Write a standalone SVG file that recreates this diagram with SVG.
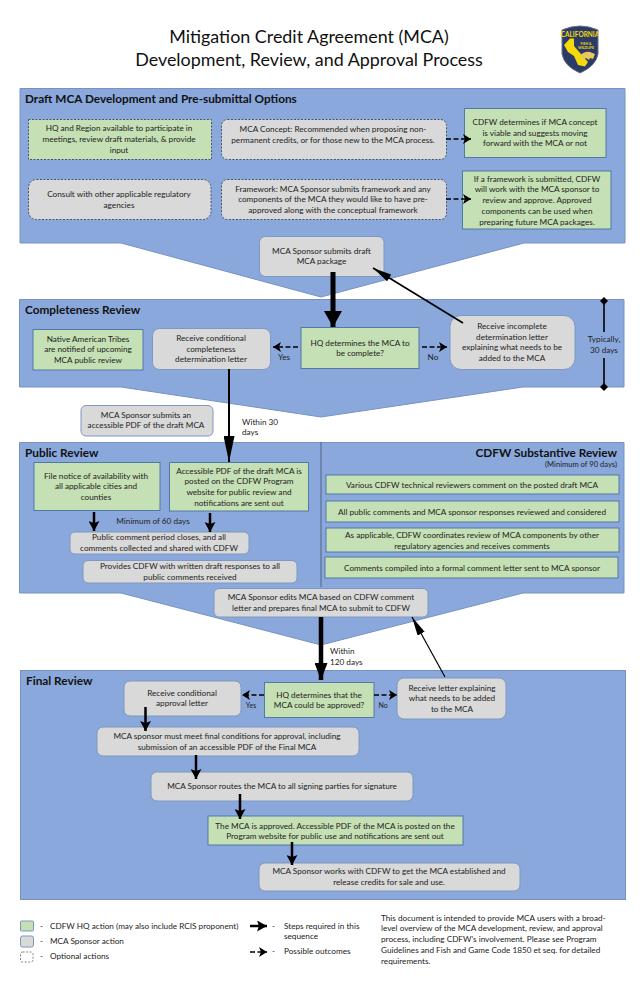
<svg xmlns="http://www.w3.org/2000/svg" width="640" height="990" viewBox="0 0 640 990">
<style>
text{font-family:"Lato","Open Sans","Liberation Sans",sans-serif;fill:#222;font-size:8.2px;text-anchor:middle}
.title{font-size:17.9px;fill:#111}
.head{font-size:11.8px;font-weight:700;text-anchor:start;fill:#111}
.l{text-anchor:start}
.panel{fill:#8aa8dc;stroke:#7792c2;stroke-width:1}
.g{fill:#c5e0b4;stroke:#4f7aa3;stroke-width:1}
.s{fill:#d9d9d9;stroke:#7f98bf;stroke-width:1}
.gd{fill:#c5e0b4;stroke:#44546a;stroke-width:1;stroke-dasharray:2 1.5}
.sd{fill:#d9d9d9;stroke:#44546a;stroke-width:1;stroke-dasharray:2 1.5}
.dash{fill:none;stroke:#000;stroke-width:1.7;stroke-dasharray:5 2.5;marker-end:url(#hd)}
.big{stroke:#000;stroke-width:5;fill:none;marker-end:url(#hb)}
.big2{stroke:#000;stroke-width:4.5;fill:none;marker-end:url(#hc)}
.long{stroke:#000;stroke-width:2;fill:none;marker-end:url(#hl)}
.small{stroke:#000;stroke-width:2.5;fill:none;marker-end:url(#hs)}
.thin{stroke:#000;stroke-width:1.2;fill:none;marker-end:url(#ht)}
.rule{stroke:#000;stroke-width:1.6;fill:none;marker-start:url(#dm);marker-end:url(#dm)}
</style>
<defs>
<marker id="hd" markerUnits="userSpaceOnUse" markerWidth="9" markerHeight="10" refX="8" refY="5" orient="auto"><path d="M0 0L8 5L0 10L2 5Z" fill="#000"/></marker>
<marker id="hb" markerUnits="userSpaceOnUse" markerWidth="18" markerHeight="18" refX="16" refY="9" orient="auto"><path d="M0 0L16 9L0 18Z" fill="#000"/></marker>
<marker id="hc" markerUnits="userSpaceOnUse" markerWidth="18" markerHeight="13" refX="17" refY="6.500" orient="auto"><path d="M0 0L17 6.500L0 13Z" fill="#000"/></marker>
<marker id="hl" markerUnits="userSpaceOnUse" markerWidth="27" markerHeight="11" refX="26" refY="5.5" orient="auto"><path d="M0 0L26 5.5L0 11Z" fill="#000"/></marker>
<marker id="hs" markerUnits="userSpaceOnUse" markerWidth="11" markerHeight="11" refX="10" refY="5.5" orient="auto"><path d="M0 0L10 5.5L0 11L2 5.5Z" fill="#000"/></marker>
<marker id="ht" markerUnits="userSpaceOnUse" markerWidth="20" markerHeight="8" refX="19" refY="4" orient="auto"><path d="M0 0L19 4L0 8Z" fill="#000"/></marker>
<marker id="dm" markerUnits="userSpaceOnUse" markerWidth="8" markerHeight="8" refX="4" refY="4" orient="auto"><path d="M4 0L8 4L4 8L0 4Z" fill="#000"/></marker>
</defs>

<g id="header">
<text class="title" x="309" y="43">Mitigation Credit Agreement (MCA)</text>
<text class="title" x="309" y="66">Development, Review, and Approval Process</text>
</g>
<g id="logo">
<path d="M562 30Q580 22 598 30L598 54Q596 66 580 73Q564 66 562 54Z" fill="#2b3a67" stroke="#6b7280" stroke-width="1"/>
<path d="M564 45L570 38.5L574 38.5L574 46L588 62L585 66.5L578 65L574 56L568 52Z" fill="#f5d90a"/>
<path d="M580 56Q584 51 590 52L595 54L593 59L590 58L589 60L586 58L582 60Z" fill="#e8c95a"/>
<text x="580" y="36.5" style="font-size:6.5px;font-weight:700;fill:#f5d90a">CALIFORNIA</text>
<text x="586" y="45" style="font-size:3.5px;font-weight:700;fill:#f5d90a">FISH &amp;</text>
<text x="586" y="49" style="font-size:3.5px;font-weight:700;fill:#f5d90a">WILDLIFE</text>
</g>

<g id="panels">
<path id="panel-draft" class="panel" d="M20 88.5H625V243H524L321 297L121 243H20Z"/>
<path id="panel-completeness" class="panel" d="M19.500 299.500H624V387H523L321 417L121 387H19.500Z"/>
<path id="panel-public" class="panel" d="M19.500 442.500H624V593H523L321 645L121 593H19.500Z"/>
<line x1="321" y1="442" x2="321" y2="587" stroke="#44546a" stroke-width="0.8"/>
<rect id="panel-final" class="panel" x="20.500" y="670.500" width="605" height="229"/>
<text class="head" x="25" y="103">Draft MCA Development and Pre-submittal Options</text>
<text class="head" x="25" y="314">Completeness Review</text>
<text class="head" x="25" y="457">Public Review</text>
<text class="head" x="617" y="457" style="text-anchor:end">CDFW Substantive Review</text>
<text x="617" y="467" style="text-anchor:end;font-size:7.6px">(Minimum of 90 days)</text>
<text class="head" x="26" y="685">Final Review</text>
</g>

<g id="n-hq-region"><rect class="gd" x="28.500" y="119.500" width="183" height="40"/>
<text x="119" y="131">HQ and Region available to  participate in</text><text x="119" y="142">meetings, review draft materials, &amp; provide</text><text x="119" y="153">input</text></g>
<g id="n-concept"><rect class="sd" x="221.500" y="119.500" width="225" height="40" rx="6"/>
<text x="333" y="132">MCA Concept: Recommended when proposing non-</text><text x="333" y="143">permanent credits, or for those new to the MCA process.</text></g>
<g id="n-viable"><rect class="g" x="464.500" y="108.500" width="141.500" height="49"/>
<text x="535" y="125">CDFW determines if MCA concept</text><text x="535" y="136">is viable and suggests moving</text><text x="535" y="146">forward with the MCA or not</text></g>
<g id="n-consult"><rect class="sd" x="28.500" y="179.500" width="182.500" height="40" rx="8"/>
<text x="119" y="197">Consult with other applicable regulatory</text><text x="119" y="208">agencies</text></g>
<g id="n-framework"><rect class="sd" x="221.500" y="179.500" width="225" height="40" rx="6"/>
<text x="333" y="192">Framework: MCA Sponsor submits framework and any</text><text x="333" y="202">components of the MCA they would like to have pre-</text><text x="333" y="213">approved along with the conceptual framework</text></g>
<g id="n-if-framework"><rect class="g" x="462.500" y="171" width="148.500" height="58"/>
<text x="537" y="182">If a framework is submitted, CDFW</text><text x="537" y="192">will work with the MCA sponsor to</text><text x="537" y="203">review and approve. Approved</text><text x="537" y="214">components can be used when</text><text x="537" y="225">preparing future MCA packages.</text></g>
<g id="n-submit-draft"><rect class="s" x="259.500" y="236.500" width="124.500" height="40" rx="6"/>
<text x="321.500" y="254">MCA Sponsor submits draft</text><text x="321.500" y="264">MCA package</text></g>

<g id="n-tribes"><rect class="g" x="33" y="329.500" width="110" height="40.500"/>
<text x="88" y="342">Native American Tribes</text><text x="88" y="352">are notified of upcoming</text><text x="88" y="363">MCA public review</text></g>
<g id="n-cond-letter"><rect class="s" x="152.500" y="328.500" width="118" height="41" rx="7"/>
<text x="211" y="341">Receive conditional</text><text x="211" y="352">completeness</text><text x="211" y="362">determination letter</text></g>
<g id="n-hq-complete"><rect class="g" x="301" y="327.500" width="118" height="41"/>
<text x="360" y="346">HQ determines the MCA to</text><text x="360" y="356">be complete?</text></g>
<g id="n-incomplete"><rect class="s" x="450" y="315.500" width="125" height="54" rx="11"/>
<text x="512" y="329">Receive incomplete</text><text x="512" y="340">determination letter</text><text x="512" y="350">explaining what needs to be</text><text x="512" y="361">added to the MCA</text></g>
<g id="labels-completeness">
<text x="284" y="360">Yes</text><text x="433" y="360">No</text>
<text x="604" y="342">Typically,</text><text x="604" y="353">30 days</text>
<text class="l" x="242" y="425">Within 30</text><text class="l" x="242" y="435">days</text>
</g>
<g id="n-submit-pdf"><rect class="s" x="81" y="405.500" width="132" height="30.500" rx="5"/>
<text x="146" y="418">MCA Sponsor submits an</text><text x="146" y="428">accessible PDF of the draft MCA</text></g>

<g id="n-file-notice"><rect class="g" x="34" y="462.500" width="126" height="48"/>
<text x="96" y="479">File notice of availability with</text><text x="96" y="489">all applicable cities and</text><text x="96" y="500">counties</text></g>
<g id="n-posted"><rect class="g" x="169.500" y="462.500" width="139" height="48.500"/>
<text x="239" y="474">Accessible PDF of the draft MCA is</text><text x="239" y="484">posted on the CDFW Program</text><text x="239" y="495">website for public review and</text><text x="239" y="506">notifications are sent out</text></g>
<text id="label-60" x="153" y="524">Minimum of 60 days</text>
<g id="n-closes"><rect class="s" x="70" y="532" width="179" height="22" rx="5"/>
<text x="159" y="540">Public comment period closes, and all</text><text x="159" y="551">comments collected and shared with CDFW</text></g>
<g id="n-responses"><rect class="s" x="83" y="560.500" width="214" height="22.500" rx="5"/>
<text x="190" y="569">Provides CDFW with written draft responses to all</text><text x="190" y="580">public comments received</text></g>
<g id="n-technical"><rect class="g" x="326" y="475" width="293" height="19"/>
<text x="472" y="488">Various CDFW technical reviewers comment on the posted draft MCA</text></g>
<g id="n-all-public"><rect class="g" x="326" y="501" width="293" height="21"/>
<text x="472" y="515">All public comments and MCA sponsor responses reviewed and considered</text></g>
<g id="n-coordinates"><rect class="g" x="326" y="528" width="293" height="24"/>
<text x="472" y="538">As applicable, CDFW coordinates review of MCA components by other</text><text x="472" y="549">regulatory agencies and receives comments</text></g>
<g id="n-compiled"><rect class="g" x="325" y="557" width="293" height="21"/>
<text x="472" y="571">Comments compiled into a formal comment letter sent to MCA sponsor</text></g>
<g id="n-edits"><rect class="s" x="214" y="588.500" width="214" height="28.500" rx="5"/>
<text x="321" y="600">MCA Sponsor edits MCA based on CDFW comment</text><text x="321" y="611">letter and prepares final MCA to submit to CDFW</text></g>
<g id="labels-120"><text class="l" x="330" y="654">Within</text><text class="l" x="330" y="665">120 days</text></g>

<g id="n-approval-letter"><rect class="s" x="124" y="681" width="117" height="35" rx="6"/>
<text x="182" y="696">Receive conditional</text><text x="182" y="706">approval letter</text></g>
<g id="n-hq-approved"><rect class="g" x="264.500" y="682.500" width="109.500" height="35"/>
<text x="319" y="698">HQ determines that the</text><text x="319" y="708">MCA could be approved?</text></g>
<g id="n-letter"><rect class="s" x="397" y="678" width="109" height="41" rx="7"/>
<text x="452" y="691">Receive letter explaining</text><text x="452" y="701">what needs to be added</text><text x="452" y="712">to the MCA</text></g>
<g id="labels-final"><text x="251" y="708" style="font-size:7px">Yes</text><text x="383" y="708" style="font-size:7px">No</text></g>
<g id="n-conditions"><rect class="s" x="97" y="727" width="262" height="29" rx="6"/>
<text x="227" y="739">MCA sponsor must meet final conditions for approval, including</text><text x="227" y="750">submission of an accessible PDF of the Final MCA</text></g>
<g id="n-routes"><rect class="s" x="151" y="772" width="262" height="29" rx="6"/>
<text x="282" y="789">MCA Sponsor routes the MCA to all signing parties for signature</text></g>
<g id="n-approved"><rect class="g" x="208" y="816" width="255" height="29"/>
<text x="335" y="829">The MCA  is approved. Accessible PDF of the MCA is posted on the</text><text x="335" y="839">Program website for public use and notifications are sent out</text></g>
<g id="n-establish"><rect class="s" x="259" y="863" width="261" height="28" rx="6"/>
<text x="389" y="874">MCA Sponsor works with CDFW to get the MCA  established and</text><text x="389" y="885">release credits for sale and use.</text></g>

<g id="connectors">
<line class="dash" x1="446" y1="139" x2="471" y2="139"/>
<line class="dash" x1="446" y1="199" x2="471" y2="199"/>
<line class="big" x1="333" y1="272" x2="333" y2="327"/>
<line class="thin" x1="463" y1="323" x2="373" y2="268" style="stroke-width:1.6"/>
<line class="dash" x1="298" y1="347" x2="273" y2="347"/>
<line class="dash" x1="422" y1="347" x2="447" y2="347"/>
<line class="long" x1="229" y1="369" x2="229" y2="462"/>
<line class="small" x1="94" y1="512" x2="94" y2="531"/>
<line class="small" x1="210" y1="513" x2="210" y2="532"/>
<line class="big2" x1="321" y1="617" x2="321" y2="680"/>
<line class="thin" x1="445" y1="677" x2="412" y2="617"/>
<line class="dash" x1="264" y1="695" x2="242" y2="695"/>
<line class="dash" x1="374" y1="695" x2="397" y2="695"/>
<line class="small" x1="145.500" y1="707" x2="145.500" y2="731"/>
<line class="small" x1="196" y1="755" x2="196" y2="779"/>
<line class="small" x1="240" y1="794" x2="240" y2="819"/>
<line class="small" x1="292" y1="842" x2="292" y2="865"/>
<line class="rule" x1="604" y1="301" x2="604" y2="332" style="marker-end:none"/>
<line class="rule" x1="604" y1="358" x2="604" y2="387" style="marker-start:none"/>
</g>

<g id="legend">
<rect class="g" x="20.500" y="921" width="13" height="10" rx="1" style="stroke:#7f98bf"/>
<rect class="s" x="20.500" y="936" width="13" height="11" rx="2"/>
<rect x="20.500" y="952" width="12.500" height="10" rx="2" fill="none" stroke="#555" stroke-width="0.700" stroke-dasharray="2 1.500"/>
<text class="l" x="40" y="929">-</text><text class="l" x="50" y="929">CDFW HQ action (may also include RCIS proponent)</text>
<text class="l" x="40" y="943.500">-</text><text class="l" x="50" y="943.500">MCA Sponsor action</text>
<text class="l" x="40" y="959">-</text><text class="l" x="50" y="959">Optional actions</text>
<line class="small" x1="250" y1="926" x2="267" y2="926"/>
<line class="dash" x1="250" y1="952" x2="267" y2="952"/>
<text class="l" x="272" y="929">-</text><text class="l" x="284" y="929">Steps required in this</text><text class="l" x="284" y="939">sequence</text>
<text class="l" x="272" y="954">-</text><text class="l" x="284" y="954">Possible outcomes</text>
<text class="l" x="381" y="921">This document is intended to provide MCA users with a broad-</text>
<text class="l" x="381" y="931">level overview of the MCA development, review, and approval</text>
<text class="l" x="381" y="942">process, including CDFW’s involvement. Please see Program</text>
<text class="l" x="381" y="953">Guidelines and Fish and Game Code 1850  et seq. for detailed</text>
<text class="l" x="381" y="964">requirements.</text>
</g>
</svg>
